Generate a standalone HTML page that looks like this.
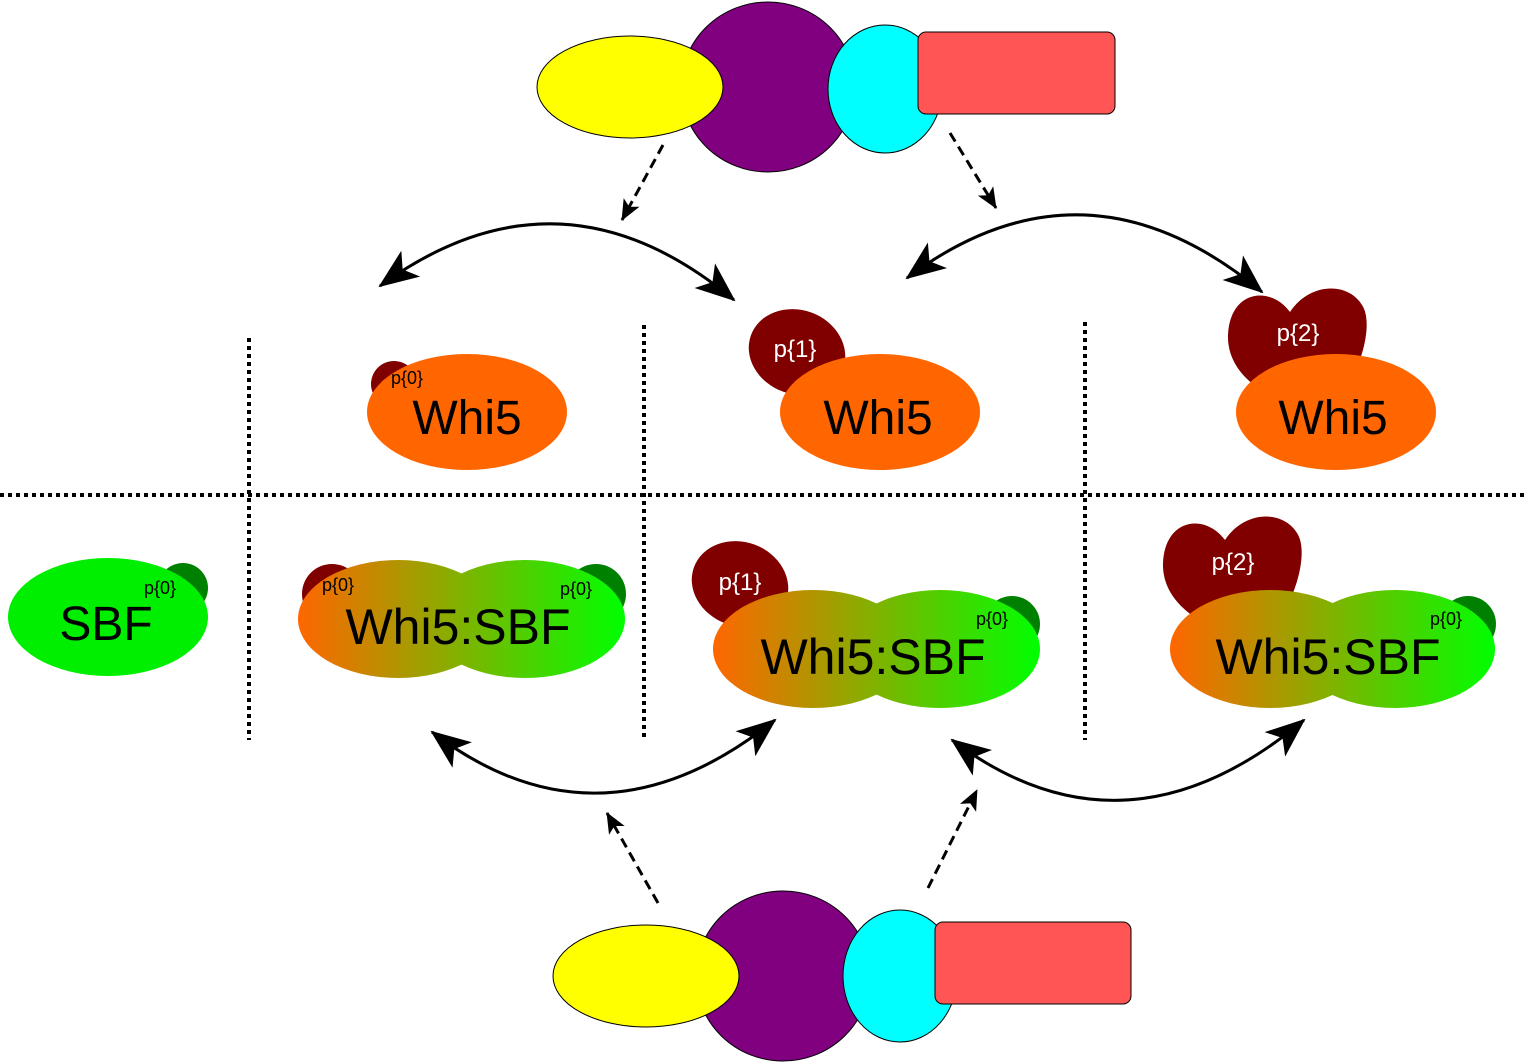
<!DOCTYPE html>
<html><head><meta charset="utf-8"><style>html,body{margin:0;padding:0;background:#fff}svg{display:block}</style></head>
<body>
<svg width="1528" height="1063" viewBox="0 0 1528 1063" xmlns="http://www.w3.org/2000/svg" font-family="Liberation Sans, sans-serif">
<defs>
<marker id="ah" markerWidth="50" markerHeight="50" refX="38" refY="16" orient="auto-start-reverse" markerUnits="userSpaceOnUse">
<path d="M0,0 L40,16 L0,32 L10,16 Z" fill="#000"/>
</marker>
<marker id="dh" markerWidth="24" markerHeight="24" refX="20" refY="9" orient="auto" markerUnits="userSpaceOnUse">
<path d="M0,0 L21,9 L0,18 L5,9 Z" fill="#000"/>
</marker>
<linearGradient id="g1" gradientUnits="userSpaceOnUse" x1="298" y1="0" x2="625" y2="0"><stop offset="0" stop-color="#ff6600"/><stop offset="1" stop-color="#00ff00"/></linearGradient>
<linearGradient id="g2" gradientUnits="userSpaceOnUse" x1="713" y1="0" x2="1040" y2="0"><stop offset="0" stop-color="#ff6600"/><stop offset="1" stop-color="#00ff00"/></linearGradient>
<linearGradient id="g3" gradientUnits="userSpaceOnUse" x1="1170" y1="0" x2="1495" y2="0"><stop offset="0" stop-color="#ff6600"/><stop offset="1" stop-color="#00ff00"/></linearGradient>
</defs>

<g stroke="#000" stroke-width="4" stroke-dasharray="4 4" fill="none">
<line x1="0" y1="495" x2="1528" y2="495"/>
<line x1="249" y1="338" x2="249" y2="740"/>
<line x1="644" y1="325" x2="644" y2="740"/>
<line x1="1085" y1="322" x2="1085" y2="740"/>
</g>

<g stroke="#000" stroke-width="1">
<ellipse cx="768" cy="87" rx="87" ry="85" fill="#800080"/>
<ellipse cx="630" cy="87" rx="93" ry="51" fill="#ffff00"/>
<ellipse cx="885" cy="89" rx="57" ry="64" fill="#00ffff"/>
<rect x="918" y="32" width="197" height="82" rx="8" fill="#ff5555"/>
</g>
<g stroke="#000" stroke-width="1">
<ellipse cx="783" cy="976" rx="87" ry="85" fill="#800080"/>
<ellipse cx="646" cy="976" rx="93" ry="51" fill="#ffff00"/>
<ellipse cx="900" cy="976" rx="57" ry="66" fill="#00ffff"/>
<rect x="935" y="922" width="196" height="82" rx="8" fill="#ff5555"/>
</g>

<g stroke="#000" stroke-width="3" fill="none">
<path d="M380,286 Q560,155 734,300" marker-start="url(#ah)" marker-end="url(#ah)"/>
<path d="M907,278 Q1085,145 1262,292" marker-start="url(#ah)" marker-end="url(#ah)"/>
<path d="M432,732 Q600,860 775,720" marker-start="url(#ah)" marker-end="url(#ah)"/>
<path d="M952,740 Q1125,870 1304,720" marker-start="url(#ah)" marker-end="url(#ah)"/>
</g>
<g stroke="#000" stroke-width="3" stroke-dasharray="10 6" fill="none">
<line x1="663" y1="145" x2="622" y2="220" marker-end="url(#dh)"/>
<line x1="950" y1="133" x2="996" y2="208" marker-end="url(#dh)"/>
<line x1="658" y1="903" x2="607" y2="813" marker-end="url(#dh)"/>
<line x1="928" y1="888" x2="977" y2="790" marker-end="url(#dh)"/>
</g>

<circle cx="394" cy="384" r="23" fill="#800000"/>
<ellipse cx="467" cy="412" rx="100" ry="58" fill="#ff6600"/>
<text x="407" y="384" font-size="18" text-anchor="middle">p{0}</text>
<text x="467" y="434" font-size="48" text-anchor="middle">Whi5</text>

<ellipse cx="797" cy="352" rx="49" ry="42" fill="#800000" transform="rotate(20 797 352)"/>
<ellipse cx="880" cy="412" rx="100" ry="58" fill="#ff6600"/>
<text x="795" y="357" font-size="24" text-anchor="middle" fill="#fff">p{1}</text>
<text x="878" y="434" font-size="48" text-anchor="middle">Whi5</text>

<path d="M1290,312 C1270,285 1230,290 1228,335 C1227,365 1250,385 1270,395 L1350,382 C1365,355 1372,320 1362,305 C1348,282 1310,282 1290,312 Z" fill="#800000"/>
<ellipse cx="1336" cy="412" rx="100" ry="58" fill="#ff6600"/>
<text x="1298" y="341" font-size="24" text-anchor="middle" fill="#fff">p{2}</text>
<text x="1333" y="434" font-size="48" text-anchor="middle">Whi5</text>

<circle cx="183" cy="588" r="25" fill="#008000"/>
<ellipse cx="108" cy="617" rx="100" ry="59" fill="#00ee00"/>
<text x="160" y="594" font-size="18" text-anchor="middle">p{0}</text>
<text x="106" y="640" font-size="48" text-anchor="middle">SBF</text>

<circle cx="332" cy="594" r="30" fill="#800000"/>
<circle cx="596" cy="594" r="30" fill="#008000"/>
<ellipse cx="398" cy="619" rx="100" ry="59" fill="url(#g1)"/>
<ellipse cx="525" cy="619" rx="100" ry="59" fill="url(#g1)"/>
<text x="338" y="591" font-size="18" text-anchor="middle">p{0}</text>
<text x="576" y="595" font-size="18" text-anchor="middle">p{0}</text>
<text x="458" y="644" font-size="50" text-anchor="middle">Whi5:SBF</text>

<ellipse cx="740" cy="584" rx="49" ry="42" fill="#800000" transform="rotate(20 740 584)"/>
<circle cx="1012" cy="624" r="28" fill="#008000"/>
<ellipse cx="813" cy="649" rx="100" ry="59" fill="url(#g2)"/>
<ellipse cx="940" cy="649" rx="100" ry="59" fill="url(#g2)"/>
<text x="740" y="590" font-size="24" text-anchor="middle" fill="#fff">p{1}</text>
<text x="992" y="625" font-size="18" text-anchor="middle">p{0}</text>
<text x="873" y="674" font-size="50" text-anchor="middle">Whi5:SBF</text>

<path d="M1225,540 C1205,513 1165,518 1163,563 C1162,593 1185,613 1205,623 L1285,610 C1300,583 1307,548 1297,533 C1283,510 1245,510 1225,540 Z" fill="#800000"/>
<circle cx="1468" cy="624" r="28" fill="#008000"/>
<ellipse cx="1270" cy="649" rx="100" ry="59" fill="url(#g3)"/>
<ellipse cx="1395" cy="649" rx="100" ry="59" fill="url(#g3)"/>
<text x="1233" y="570" font-size="24" text-anchor="middle" fill="#fff">p{2}</text>
<text x="1446" y="625" font-size="18" text-anchor="middle">p{0}</text>
<text x="1328" y="674" font-size="50" text-anchor="middle">Whi5:SBF</text>
</svg>
</body></html>
